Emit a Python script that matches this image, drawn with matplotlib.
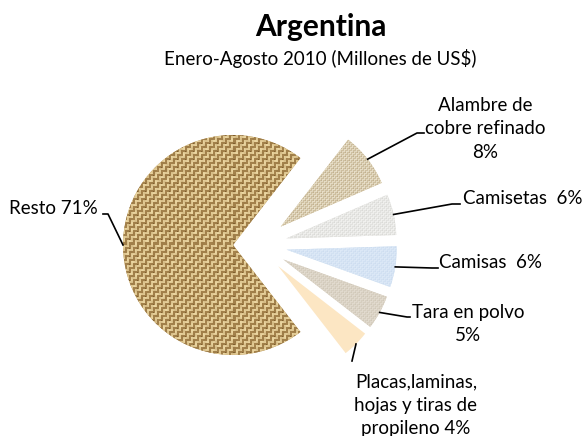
import numpy as np
import matplotlib
matplotlib.use("Agg")
import matplotlib.pyplot as plt
from matplotlib.colors import LinearSegmentedColormap

productos = ["Alambre de\ncobre refinado", "Camisetas", "Camisas", "Tara en polvo",
             "Placas,laminas,\nhojas y tiras de\npropileno", "Resto"]
porcentajes = [8, 6, 6, 5, 4, 71]
etiquetas = ["Alambre de\ncobre refinado\n8%", "Camisetas  6%", "Camisas  6%",
             "Tara en polvo\n5%", "Placas,laminas,\nhojas y tiras de\npropileno 4%", "Resto 71%"]
colores = ["#d6c8a6", "#e6e5e1", "#d4e3f3", "#dad2c4", "#fce6c3", "#b0915a"]

W, H = 583, 436
plt.rcParams["font.family"] = ["Lato", "DejaVu Sans"]

fig = plt.figure(figsize=(W / 100, H / 100), dpi=100)
ax = fig.add_axes([0, 0, 1, 1])

cx, cy, R = 257, H - 245, 110
separacion = [30, 30, 30, 30, 30, 24]
wedges, _ = ax.pie(porcentajes, colors=colores, explode=separacion, startangle=52.2,
                   counterclock=False, center=(cx, cy), radius=R,
                   wedgeprops=dict(linewidth=0))
ax.set_xlim(0, W)
ax.set_ylim(0, H)
ax.set_aspect("equal")
ax.axis("off")


def tejido(n, b):
    yy, xx = np.mgrid[0:n, 0:n]
    bi = yy // b
    bj = xx // b
    horiz = ((bi + bj) % 2) == 0
    hilo_h = (yy % b) >= b // 2
    hilo_v = (xx % b) >= b // 2
    v = np.where(horiz, hilo_h, hilo_v) * 0.6 + 0.4
    # huecos oscuros entre hilos
    oscuro = ((xx % (2 * b)) == 0) & ((yy % (2 * b)) == b)
    v = np.where(oscuro, 0.0, v)
    v = v * (0.9 + 0.1 * np.sin(xx * 0.71 + yy * 0.43) * np.sin(xx * 0.37 - yy * 0.59))
    return v


def rellenar(w, tonos, b):
    x0, y0 = w.center[0] - w.r - 2, w.center[1] - w.r - 2
    n = int(2 * w.r + 4)
    cmap = LinearSegmentedColormap.from_list("t", tonos)
    im = ax.imshow(tejido(n, b), extent=(x0, x0 + n, y0, y0 + n), cmap=cmap,
                   origin="lower", interpolation="nearest", zorder=2, vmin=0, vmax=1)
    im.set_clip_path(w)


rellenar(wedges[5], ["#7e5e2e", "#b08e56", "#ecd7a2"], 4)
rellenar(wedges[0], ["#c2b190", "#d3c5a6", "#e8dfc9"], 2)
rellenar(wedges[1], ["#dadad7", "#e5e5e2", "#f1f1ef"], 2)
rellenar(wedges[2], ["#cddcef", "#d4e3f4", "#dde9f7"], 2)
rellenar(wedges[3], ["#d0c8b8", "#d9d1c3", "#e2dbcf"], 2)

# posiciones de texto y codos de las lineas guia (pixeles desde arriba)
texto_xy = [(485, 129), (463, 198), (439, 263), (468, 324), (416, 405), (98, 209)]
alineacion = ["center", "left", "left", "center", "center", "right"]
codos = [[(417, 133), (424, 133)], [(452, 204), (460, 204)], [(432, 268), (438, 268)],
         [(407, 317), (410, 317)], [(352, 361)], [(108, 214), (103, 214)]]

for w, txt, (tx, ty), ha, codo in zip(wedges, etiquetas, texto_xy, alineacion, codos):
    ang = np.deg2rad((w.theta1 + w.theta2) / 2)
    x = [w.center[0] + w.r * np.cos(ang)]
    y = [w.center[1] + w.r * np.sin(ang)]
    for px, pyy in codo:
        x.append(px)
        y.append(H - pyy)
    ax.plot(x, y, color="black", lw=1.2, zorder=3)
    ax.text(tx, H - ty, txt, ha=ha, va="center", fontsize=13.5, linespacing=1.45, zorder=4)

ax.text(W / 2 + 29, H - 27, "Argentina", ha="center", va="center", fontsize=21.5, fontweight="bold")
ax.text(W / 2 + 29, H - 59, "Enero-Agosto 2010 (Millones de US$)", ha="center", va="center", fontsize=13.5)

fig.savefig("out.png", dpi=100)
